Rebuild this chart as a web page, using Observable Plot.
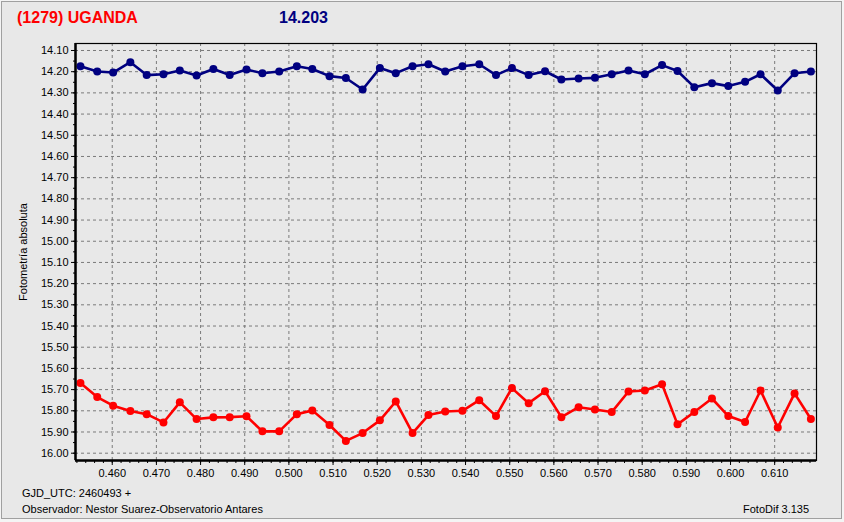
<!DOCTYPE html>
<html>
<head>
<meta charset="utf-8">
<script src="https://cdn.jsdelivr.net/npm/d3@7"></script>
<script src="https://cdn.jsdelivr.net/npm/@observablehq/plot@0.6"></script>
<style>
  html, body { margin: 0; padding: 0; background: #f4f4f4; }
  #wrap { position: relative; width: 844px; height: 522px; overflow: hidden; background: #f4f4f4;
          font-family: "Liberation Sans", Arial, sans-serif; }
  #box { position: absolute; left: 1px; top: 1px; width: 841px; height: 518px; box-sizing: border-box;
         border: 1px solid #a0a0a0; background: #e8e8e8; }
  #chart { position: absolute; left: 0; top: 0; }
  .t { position: absolute; white-space: nowrap; }
  #title1 { left: 17px; top: 9px; font-size: 16px; font-weight: bold; color: #ff0000; }
  #title2 { left: 279px; top: 9px; font-size: 16px; font-weight: bold; color: #000080; }
  .small { font-size: 11px; color: #000; }
</style>
</head>
<body>
<div id="wrap">
  <div id="box"></div>
  <div id="chart"></div>
  <div class="t" id="title1"></div>
  <div class="t" id="title2"></div>
  <div class="t small" id="foot1" style="left:22px; top:487px;"></div>
  <div class="t small" id="foot2" style="left:22px; top:503px;"></div>
  <div class="t small" id="foot3" style="left:743px; top:503px;"></div>
</div>
<script>
// ---- texts ----
const titleObject = "(1279) UGANDA";
const titleMag = "14.203";
const yLabel = "Fotometría absoluta";
const footGJD = "GJD_UTC: 2460493 +";
const footObs = "Observador: Nestor Suarez-Observatorio Antares";
const footSoft = "FotoDif 3.135";

// ---- data: fraction of day (GJD - 2460493) ----
const times = [0.4528, 0.4566, 0.4602, 0.4641, 0.4678, 0.4716, 0.4753, 0.4791, 0.4829, 0.4866,
               0.4904, 0.4940, 0.4978, 0.5018, 0.5053, 0.5092, 0.5129, 0.5167, 0.5206, 0.5242,
               0.5280, 0.5316, 0.5354, 0.5393, 0.5431, 0.5469, 0.5505, 0.5543, 0.5580, 0.5617,
               0.5656, 0.5693, 0.5731, 0.5769, 0.5806, 0.5845, 0.5880, 0.5918, 0.5958, 0.5995,
               0.6033, 0.6068, 0.6107, 0.6145, 0.6182];
// blue series (asteroid, absolute photometry)
const blueMag = [14.174, 14.199, 14.204, 14.155, 14.216, 14.212, 14.194, 14.218, 14.187, 14.216,
                 14.190, 14.207, 14.199, 14.174, 14.187, 14.221, 14.230, 14.284, 14.183, 14.207,
                 14.174, 14.165, 14.199, 14.174, 14.165, 14.216, 14.183, 14.216, 14.198, 14.237,
                 14.232, 14.229, 14.212, 14.194, 14.212, 14.169, 14.197, 14.273, 14.254, 14.268,
                 14.248, 14.212, 14.289, 14.207, 14.199];
// red series
const redMag = [15.669, 15.735, 15.776, 15.801, 15.816, 15.855, 15.760, 15.839, 15.831, 15.830,
                15.826, 15.897, 15.897, 15.816, 15.798, 15.867, 15.942, 15.905, 15.845, 15.756,
                15.905, 15.820, 15.803, 15.800, 15.750, 15.825, 15.693, 15.764, 15.708, 15.830,
                15.783, 15.794, 15.806, 15.709, 15.704, 15.675, 15.864, 15.806, 15.742, 15.825,
                15.853, 15.704, 15.879, 15.718, 15.839];

// ---- ticks ----
const yTicks = [14.10, 14.20, 14.30, 14.40, 14.50, 14.60, 14.70, 14.80, 14.90, 15.00,
                15.10, 15.20, 15.30, 15.40, 15.50, 15.60, 15.70, 15.80, 15.90, 16.00];
const xTicks = [0.460, 0.470, 0.480, 0.490, 0.500, 0.510, 0.520, 0.530, 0.540, 0.550,
                0.560, 0.570, 0.580, 0.590, 0.600, 0.610];
const xMinor = d3.range(226, 310).map(i => i * 0.002);
const yMinor = d3.range(282, 321).map(i => i * 0.05);

const xDomain = [0.45168, 0.61947];
const yDomain = [14.067, 16.0345];

const rows = times.map((t, i) => ({t, blue: blueMag[i], red: redMag[i]}));

const chart = Plot.plot({
  width: 844,
  height: 522,
  marginLeft: 75,
  marginRight: 28,
  marginTop: 43,
  marginBottom: 62,
  style: {background: "transparent", fontFamily: "'Liberation Sans', Arial, sans-serif", fontSize: "11px", color: "#000", overflow: "visible"},
  x: {domain: xDomain},
  y: {domain: yDomain, reverse: true},
  marks: [
    Plot.ruleY(yTicks, {stroke: "#7a7a7a", strokeDasharray: "3,3"}),
    Plot.ruleX(xTicks, {stroke: "#7a7a7a", strokeDasharray: "3,3"}),
    Plot.axisY(yMinor.filter(v => v > yDomain[0] && v < yDomain[1]), {tickSize: 2, tickFormat: () => "", label: null}),
    Plot.axisY(yTicks, {tickSize: 4, tickPadding: 3, tickFormat: d => d.toFixed(2), label: null, fontSize: 11}),
    Plot.axisX(xMinor.filter(v => v > xDomain[0] && v < xDomain[1]), {tickSize: 3, tickFormat: () => "", label: null}),
    Plot.axisX(xTicks, {tickSize: 5, tickPadding: 4, tickFormat: d => d.toFixed(3), label: null, fontSize: 11}),
    Plot.line(rows, {x: "t", y: "blue", stroke: "#000080", strokeWidth: 2.6}),
    Plot.dot(rows, {x: "t", y: "blue", fill: "#000080", r: 4}),
    Plot.line(rows, {x: "t", y: "red", stroke: "#ff0000", strokeWidth: 2.6}),
    Plot.dot(rows, {x: "t", y: "red", fill: "#ff0000", r: 4}),
    Plot.frame({stroke: "#000", strokeWidth: 1.2}),
    Plot.ruleX([xDomain[0]], {stroke: "#000", strokeWidth: 2.5}),
    Plot.ruleY([yDomain[1]], {stroke: "#000", strokeWidth: 2.5}),
    Plot.text([yLabel], {text: d => d, frameAnchor: "left", dx: -52, rotate: -90, textAnchor: "middle", fontSize: 11})
  ]
});
document.getElementById("chart").appendChild(chart);
document.getElementById("title1").textContent = titleObject;
document.getElementById("title2").textContent = titleMag;
document.getElementById("foot1").textContent = footGJD;
document.getElementById("foot2").textContent = footObs;
document.getElementById("foot3").textContent = footSoft;
</script>
</body>
</html>
